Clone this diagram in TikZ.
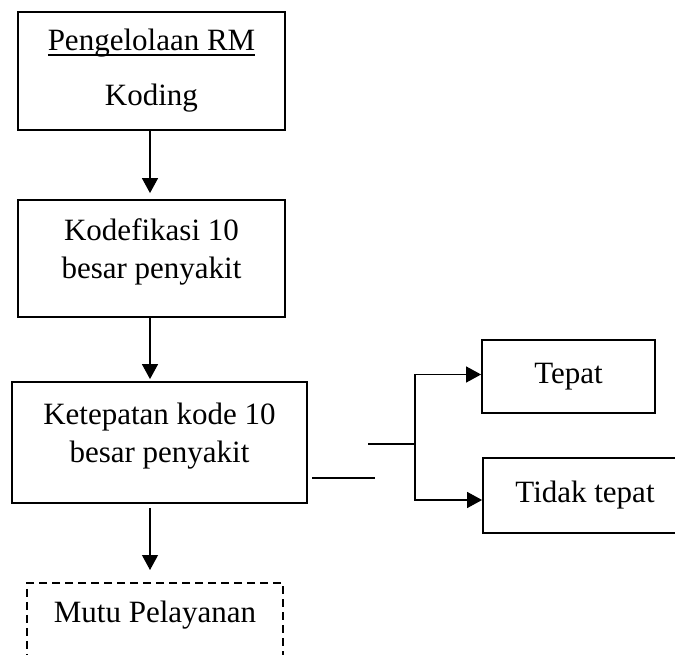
\documentclass[tikz,border=0pt]{standalone}
\usepackage{fontspec}
\setmainfont{Liberation Serif}
\usepackage{tikz}
\usetikzlibrary{arrows.meta}
\usetikzlibrary{positioning}

\newsavebox{\gbbox}
\newcommand{\garisbawah}[1]{\sbox{\gbbox}{#1}\rlap{\rule[-5pt]{\wd\gbbox}{1.6pt}}\usebox{\gbbox}}
\newcommand{\turun}{\rule[-19pt]{0pt}{0pt}}

\tikzset{
  kotak/.style={draw, line width=1.8pt, align=center, inner sep=0pt,
    font=\fontsize{31}{38}\selectfont},
  dkotak/.style={kotak, dash pattern=on 8pt off 5pt},
  arr/.style={line width=1.2pt, -{Triangle[length=15pt,width=16pt]}},
  garis/.style={line width=1.2pt}
}

\begin{document}
\begin{tikzpicture}[x=1pt,y=-1pt]
\clip (0,0) rectangle (675,655);
\fill[white] (0,0) rectangle (675,655);
% kotak utama
\node[kotak, minimum width=267pt, minimum height=118pt] (kelola) at (151.5,71)
  {\garisbawah{Pengelolaan RM}\\[17pt]Koding};
\node[kotak, minimum width=267pt, minimum height=117pt] (kodefikasi) at (151.5,258.5)
  {Kodefikasi 10\\besar penyakit\turun};
\node[kotak, minimum width=295pt, minimum height=121pt] (ketepatan) at (159.5,442.5)
  {Ketepatan kode 10\\besar penyakit\turun};
\node[kotak, minimum width=173pt, minimum height=73pt] (tepat) at (568.5,376.5) {Tepat};
\node[kotak, minimum width=204pt, minimum height=75pt] (tidak) at (585,495.5) {Tidak tepat};
\node[dkotak, minimum width=256pt, anchor=north, inner ysep=18pt,
  text height=22pt, text depth=100pt] (mutu) at (155,582) {Mutu Pelayanan};
% garis
\coordinate (spine) at (150,0);
\coordinate (fork) at (415,444);
\coordinate (stub) at (368,444);
\coordinate (gapl) at (312,478);
\coordinate (gapr) at (375,478);
\draw[arr, shorten >=6pt] (kelola.south -| spine) -- (kodefikasi.north -| spine);
\draw[arr, shorten >=2pt] (kodefikasi.south -| spine) -- (ketepatan.north -| spine);
\draw[arr, shorten <=4pt, shorten >=12pt] (ketepatan.south -| spine) -- (mutu.north -| spine);
\draw[garis] (gapl) -- (gapr);
\draw[garis] (stub) -- (fork);
\draw[arr] (fork) |- ([yshift=2pt]tepat.west);
\draw[arr] (fork) |- ([yshift=-4.5pt]tidak.west);
\end{tikzpicture}
\end{document}
